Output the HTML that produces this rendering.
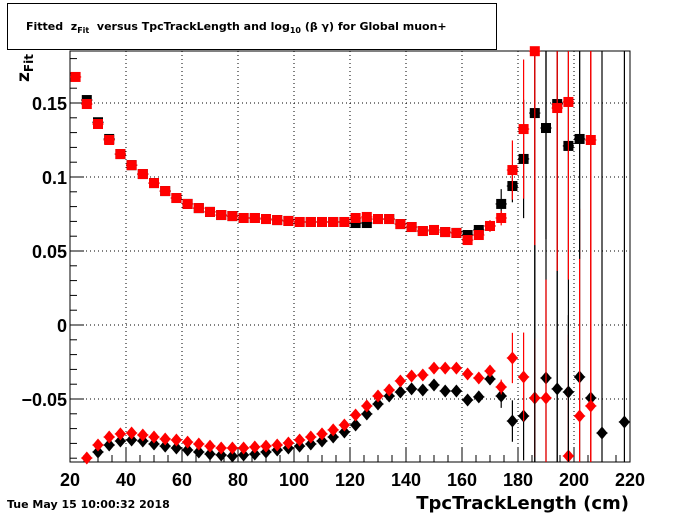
<!DOCTYPE html>
<html><head><meta charset="utf-8"><style>
body{margin:0;background:#fff;font-family:"Liberation Sans",sans-serif}
</style></head><body>
<svg id="c" width="700" height="514" xmlns="http://www.w3.org/2000/svg" font-family="Liberation Sans, sans-serif">
<rect width="700" height="514" fill="#fff"/>
<g>
<rect x="7.5" y="3.5" width="489" height="46" fill="#fff" stroke="#000"/>
<text x="26" y="30" font-size="11" font-weight="bold" font-family="DejaVu Sans, sans-serif" xml:space="preserve">Fitted  z<tspan font-size="8" dy="3">Fit</tspan><tspan dy="-3">  versus TpcTrackLength and log</tspan><tspan font-size="8" dy="3">10</tspan><tspan dy="-3"> (β γ) for Global muon+</tspan></text>
</g>
<g id="grid"></g>
<g id="axes"></g>
<g id="marks"></g>
<text transform="translate(29,82) rotate(-90)" font-size="17" font-weight="bold" font-family="DejaVu Sans, sans-serif">z<tspan font-size="12" dy="4">Fit</tspan></text>
<text x="629" y="509" text-anchor="end" font-size="18" font-weight="bold" font-family="DejaVu Sans, sans-serif">TpcTrackLength (cm)</text>
<text x="7" y="508" font-size="11" font-weight="bold" font-family="DejaVu Sans, sans-serif">Tue May 15 10:00:32 2018</text>
</svg>
<script>
const xTicks=[20,40,60,80,100,120,140,160,180,200,220];
const yTicks=[0.15,0.1,0.05,0,-0.05];
const yTickLabels=["0.15","0.1","0.05","0","\u22120.05"];
const bsqX=[26,30,34,38,42,46,50,54,58,62,66,70,74,78,82,86,90,94,98,102,106,110,114,118,122,126,130,134,138,142,146,150,154,158,162,166,170,174,178,182,186,190,194,198,202];
const bsqY=[0.152,0.137,0.1257,0.1155,0.108,0.102,0.0959,0.0905,0.0858,0.0818,0.079,0.0764,0.0743,0.0736,0.0723,0.0723,0.0716,0.0709,0.0703,0.0696,0.0696,0.0696,0.0696,0.0696,0.0689,0.0689,0.0716,0.0716,0.0682,0.0662,0.0635,0.0642,0.0628,0.0622,0.0608,0.0642,0.0669,0.0818,0.0939,0.1122,0.1432,0.1331,0.1493,0.121,0.1257];
const bsqE=[0,0,0,0,0,0,0,0,0,0,0,0,0,0,0,0,0,0,0,0,0,0,0,0,0,0,0,0,0,0,0,0,0,0,0,0,0.003,0.01,0.011,0.04,0.3,0.075,0.3,0.3,0.081];
const rsqX=[22,26,30,34,38,42,46,50,54,58,62,66,70,74,78,82,86,90,94,98,102,106,110,114,118,122,126,130,134,138,142,146,150,154,158,162,166,170,174,178,182,186,194,198,206];
const rsqY=[0.1676,0.1493,0.1358,0.125,0.1155,0.108,0.102,0.0959,0.0905,0.0858,0.0818,0.079,0.0764,0.0743,0.0736,0.0723,0.0723,0.0716,0.0709,0.0703,0.0696,0.0696,0.0696,0.0696,0.0696,0.0723,0.073,0.0716,0.0716,0.0682,0.0662,0.0635,0.0642,0.0628,0.0622,0.0574,0.0608,0.0669,0.0723,0.1047,0.1324,0.185,0.1466,0.1507,0.125];
const rsqE=[0,0,0,0,0,0,0,0,0,0,0,0,0,0,0,0,0,0,0,0,0,0,0,0,0,0,0,0,0,0,0,0,0,0,0,0,0.003,0.004,0.005,0.02,0.047,0.131,0.11,0.12,0.3];
const bdX=[30,34,38,42,46,50,54,58,62,66,70,74,78,82,86,90,94,98,102,106,110,114,118,122,126,130,134,138,142,146,150,154,158,162,166,170,174,178,182,186,190,194,198,202,206,210,218];
const bdY=[-0.0858,-0.0811,-0.0784,-0.0777,-0.0784,-0.0804,-0.0818,-0.0831,-0.0845,-0.0858,-0.0872,-0.0878,-0.0885,-0.0878,-0.0872,-0.0858,-0.0845,-0.0831,-0.0818,-0.0804,-0.0784,-0.0757,-0.0723,-0.0676,-0.0601,-0.0534,-0.048,-0.0453,-0.0432,-0.0439,-0.0405,-0.0446,-0.0446,-0.0507,-0.0486,-0.0365,-0.048,-0.0649,-0.0615,-0.0493,-0.0358,-0.0432,-0.0453,-0.0351,-0.0493,-0.073,-0.0655];
const bdE=[0,0,0,0,0,0,0,0,0,0,0,0,0,0,0,0,0,0,0,0,0,0,0,0,0,0,0,0,0,0,0,0,0,0,0,0.004,0.008,0.014,0.03,0.3,0.3,0.3,0.052,0.3,0.3,0.3,0.3];
const rdX=[26,30,34,38,42,46,50,54,58,62,66,70,74,78,82,86,90,94,98,102,106,110,114,118,122,126,130,134,138,142,146,150,154,158,162,166,170,174,178,182,186,190,198,202,206];
const rdY=[-0.0899,-0.0811,-0.0757,-0.0736,-0.073,-0.0743,-0.0757,-0.077,-0.0777,-0.0791,-0.0804,-0.0818,-0.0831,-0.0831,-0.0831,-0.0824,-0.0818,-0.0811,-0.0797,-0.0777,-0.0757,-0.0736,-0.0709,-0.0676,-0.0608,-0.0547,-0.048,-0.0439,-0.0378,-0.0345,-0.0338,-0.0291,-0.0291,-0.0291,-0.0331,-0.0358,-0.0311,-0.0419,-0.0223,-0.0351,-0.0493,-0.0493,-0.0885,-0.0615,-0.0547];
const rdE=[0,0,0,0,0,0,0,0,0,0,0,0,0,0,0,0,0,0,0,0,0,0,0,0,0,0,0,0,0,0,0,0,0,0,0,0,0.003,0.005,0.017,0.03,0.04,0.08,0.082,0.14,0.3];

const L=70,R=630,T=51,B=462;
const sx=v=>L+(v-20)*(R-L)/200;
const sy=v=>325-v*1480;
const NS="http://www.w3.org/2000/svg";
function mk(tag,attrs,parent){const e=document.createElementNS(NS,tag);for(const k in attrs)e.setAttribute(k,attrs[k]);parent.appendChild(e);return e;}
const grid=document.getElementById('grid'),axes=document.getElementById('axes'),marks=document.getElementById('marks');
xTicks.forEach(t=>{if(t>20&&t<220){const g=mk('line',{x1:sx(t),x2:sx(t),y1:T,y2:B,stroke:'#000','stroke-dasharray':'1,3'},grid);}});
yTicks.forEach(t=>{const g=mk('line',{x1:L,x2:R,y1:sy(t),y2:sy(t),stroke:'#000','stroke-dasharray':'1,3'},grid);});
const fr=mk('rect',{x:L,y:T,width:R-L,height:B-T,fill:'none',stroke:'#000'},axes);


for(let v=20;v<=220;v+=5){const big=v%20===0;mk('line',{x1:sx(v),x2:sx(v),y1:B,y2:B-(big?14:7),stroke:'#000'},axes);}
for(let k=-9;k<=18;k++){const v=k*0.01;const y=sy(v);if(y<T||y>B)continue;const big=k%5===0;mk('line',{x1:L,x2:L+(big?14:7),y1:y,y2:y,stroke:'#000'},axes);}
xTicks.forEach(t=>{const e=mk('text',{x:sx(t),y:B+24,'text-anchor':'middle','font-size':'18','font-weight':'bold'},axes);e.textContent=t;});
yTicks.forEach((t,i)=>{const e=mk('text',{x:L-3,y:sy(t)+7,'text-anchor':'end','font-size':'18','font-weight':'bold'},axes);e.textContent=yTickLabels[i];});
function clipY(y){return Math.max(T,Math.min(B,y));}
function series(xs,ys,es,color,shape,name){
  const g=mk('g',{},marks);
  
  
  xs.forEach((x,i)=>{
    const cx=sx(x),cy=sy(ys[i]);
    if(es[i]>0)mk('line',{x1:cx,x2:cx,y1:clipY(sy(ys[i]+es[i])),y2:clipY(sy(ys[i]-es[i])),stroke:color,'stroke-width':1.2},g);
    mk('line',{x1:sx(x-2),x2:sx(x+2),y1:cy,y2:cy,stroke:color,'stroke-width':1.2},g);
    if(cy<T-6||cy>B+6)return;
    let m;
    if(shape==='sq')m=mk('rect',{x:cx-5,y:cy-5,width:10,height:10,fill:color},g);
    else m=mk('polygon',{points:`${cx},${cy-6.5} ${cx+5.5},${cy} ${cx},${cy+6.5} ${cx-5.5},${cy}`,fill:color},g);
    
    
  });
}
series(bdX,bdY,bdE,'#000','dm','black-diamond-series');
series(rdX,rdY,rdE,'#f00','dm','red-diamond-series');
series(bsqX,bsqY,bsqE,'#000','sq','black-square-series');
series(rsqX,rsqY,rsqE,'#f00','sq','red-square-series');
</script>
</body></html>
